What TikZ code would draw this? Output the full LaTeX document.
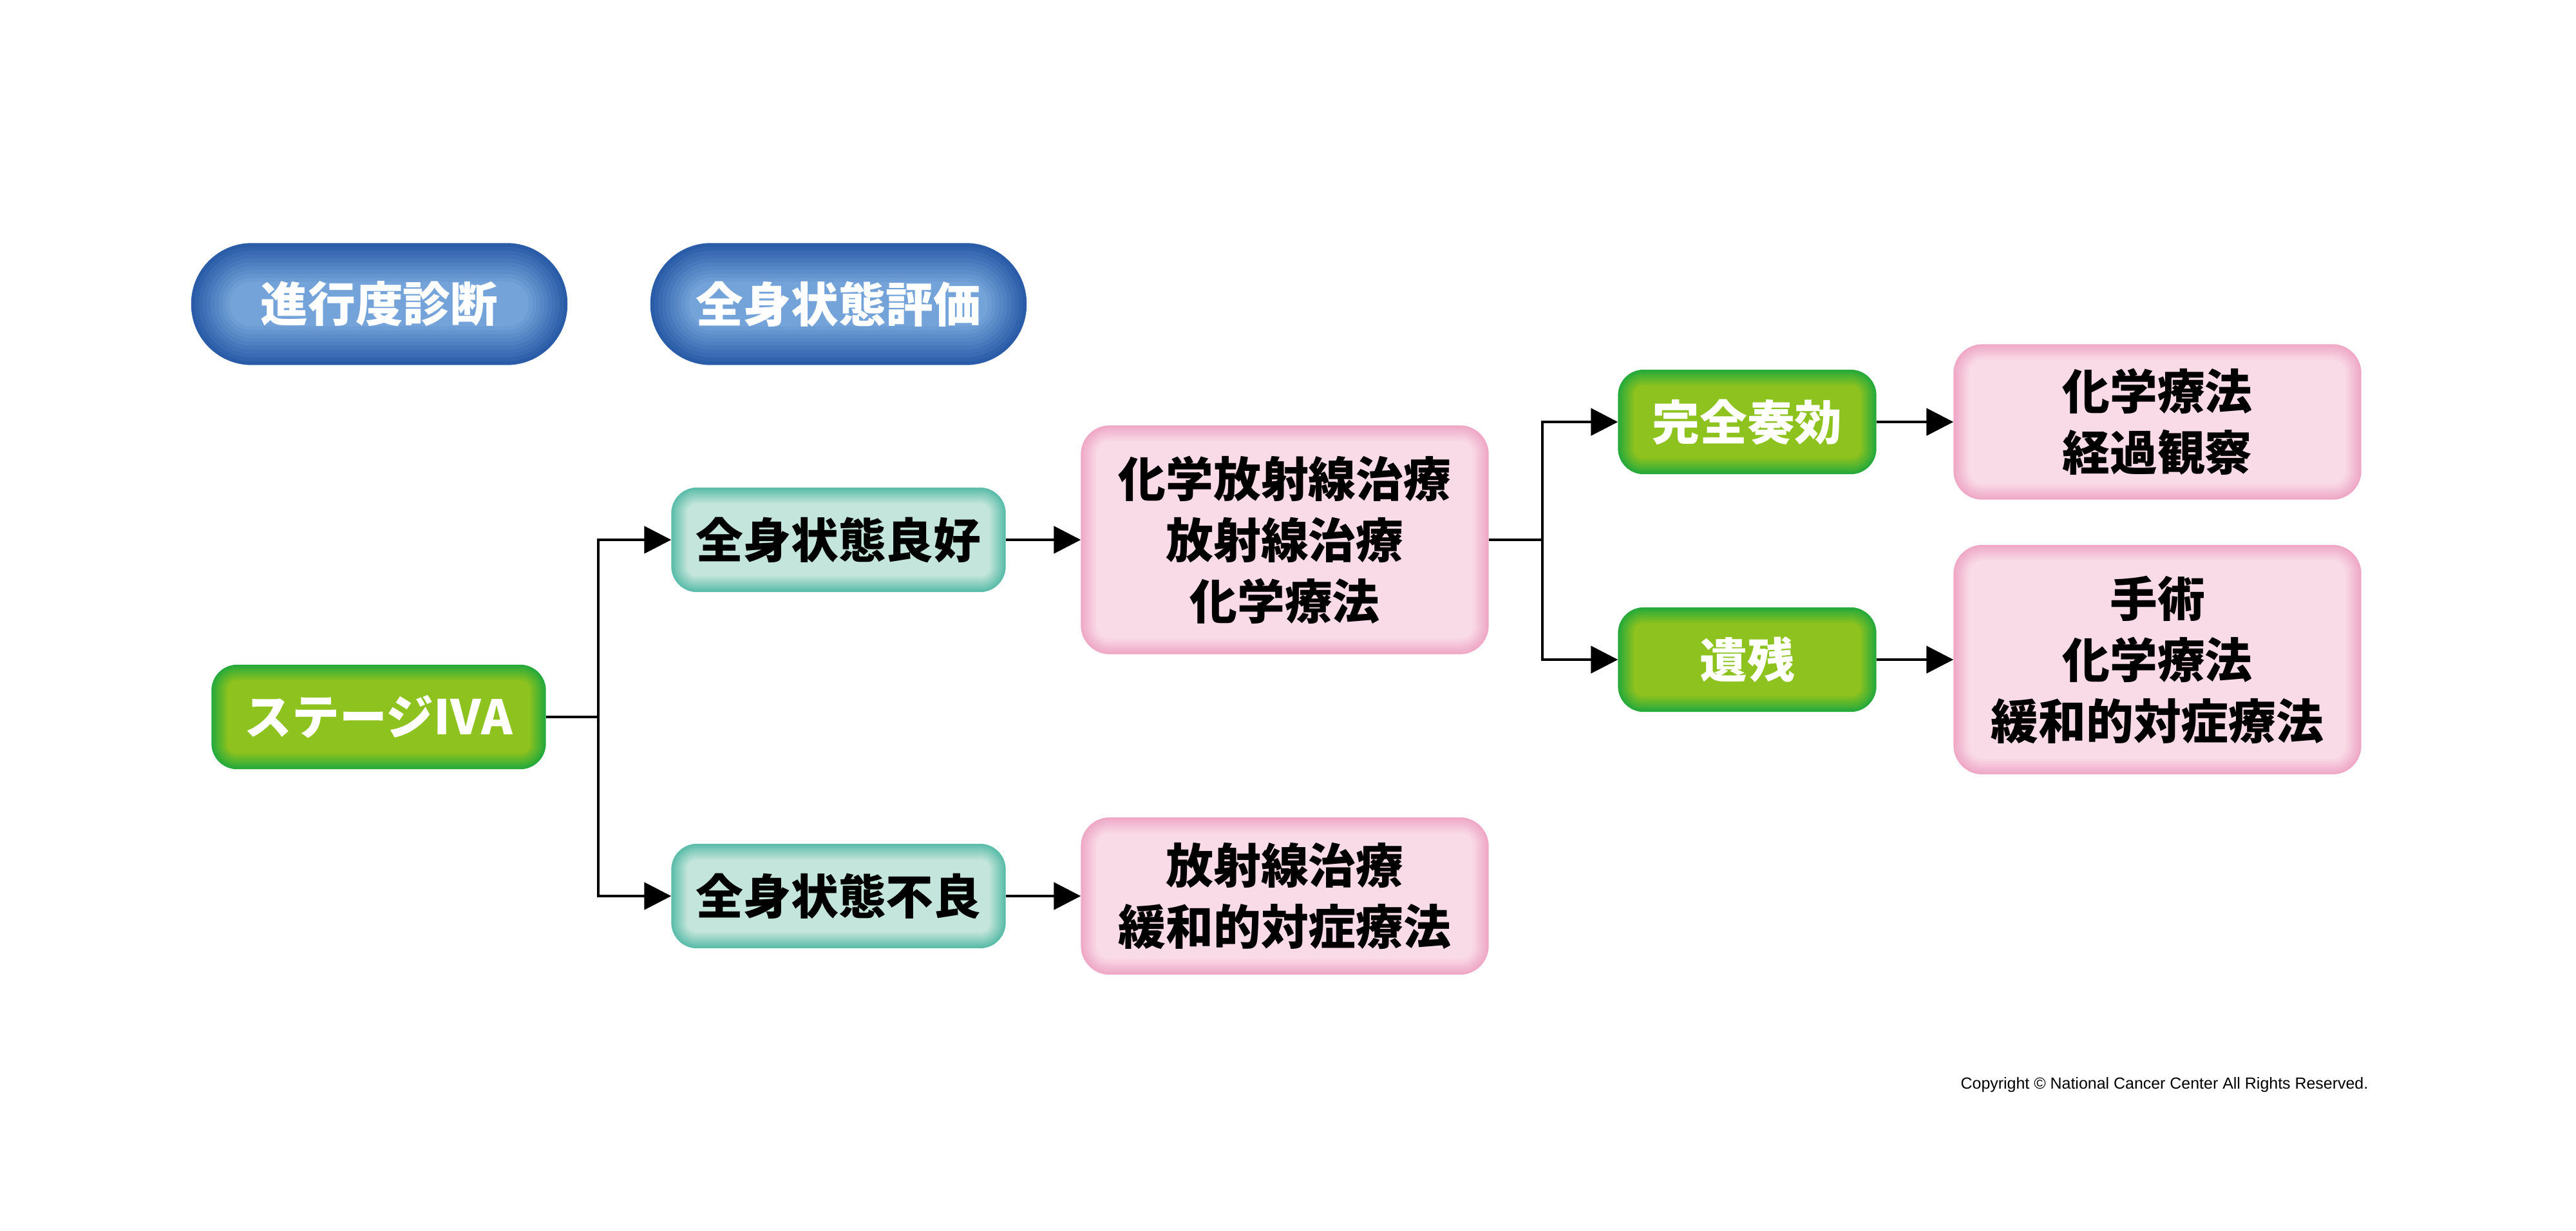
\documentclass[tikz,border=0pt]{standalone}
\usepackage{fontspec}
\newfontfamily\jpfont{Noto Sans CJK JP}
\setsansfont{Liberation Sans}
\usetikzlibrary{arrows.meta,calc,backgrounds}

\definecolor{bluedge}{HTML}{2A5CA8}
\definecolor{bluemid}{HTML}{74A3D9}
\definecolor{greenedge}{HTML}{27AA3A}
\definecolor{greenmid}{HTML}{8DC21F}
\definecolor{tealedge}{HTML}{5CBDAA}
\definecolor{tealmid}{HTML}{C4E5DB}
\definecolor{pinkedge}{HTML}{EFA9C7}
\definecolor{pinkmid}{HTML}{F9DBE7}

% soft inner glow: node, edge colour, centre colour, radius, step, steps
\newcommand{\glowfill}[6]{%
  \begin{scope}[on background layer]
    \foreach \k in {0,...,#6}{
      \pgfmathtruncatemacro{\pc}{100*\k/#6}
      \pgfmathsetmacro{\rr}{max(#4-\k*#5,0.02)}
      \fill[#3!\pc!#2, rounded corners=\rr cm]
        ($(#1.south west)+(\k*#5,\k*#5)$) rectangle ($(#1.north east)-(\k*#5,\k*#5)$);
    }
  \end{scope}}

\tikzset{
  box/.style={inner sep=0pt, align=center, font=\jpfont\bfseries\fontsize{21}{27}\selectfont},
  pill/.style={box, text=white, minimum width=5.83cm, minimum height=1.88cm},
  stagebox/.style={box, text=white, minimum height=1.61cm},
  statebox/.style={box, minimum width=5.18cm, minimum height=1.61cm},
  txbox/.style={box, minimum width=6.32cm},
  line/.style={line width=1.4pt},
  arr/.style={line, -{Triangle[length=0.42cm, width=0.42cm]}}
}

\begin{document}
\begin{tikzpicture}
\useasboundingbox (0,0) rectangle (40,-19.1);

\node[pill] (diag) at (5.89,-4.72) {進行度診断};
\node[pill] (eval) at (13.02,-4.72) {全身状態評価};

\node[stagebox, minimum width=5.18cm] (stage) at (5.88,-11.13) {ステージⅣA};
\node[statebox] (good) at (13.02,-8.38) {全身状態良好};
\node[statebox] (poor) at (13.02,-13.91) {全身状態不良};
\node[txbox, minimum height=3.54cm] (tx1) at (19.95,-8.38) {化学放射線治療\\放射線治療\\化学療法};
\node[txbox, minimum height=2.43cm] (tx2) at (19.95,-13.91) {放射線治療\\緩和的対症療法};
\node[stagebox, minimum width=4.00cm] (cr) at (27.13,-6.55) {完全奏効};
\node[stagebox, minimum width=4.00cm] (res) at (27.13,-10.24) {遺残};
\node[txbox, minimum height=2.40cm] (tx3) at (33.50,-6.55) {化学療法\\経過観察};
\node[txbox, minimum height=3.55cm] (tx4) at (33.50,-10.24) {手術\\化学療法\\緩和的対症療法};

\node[font=\sffamily\fontsize{7.1}{8.5}\selectfont] (copy) at (33.61,-16.84)
  {Copyright © National Cancer Center All Rights Reserved.};

\foreach \n in {diag,eval} {\glowfill{\n}{bluedge}{bluemid}{0.94}{0.06}{10}}
\foreach \n in {stage,cr,res} {\glowfill{\n}{greenedge}{greenmid}{0.4}{0.03}{8}}
\foreach \n in {good,poor} {\glowfill{\n}{tealedge}{tealmid}{0.4}{0.03}{8}}
\foreach \n in {tx1,tx2,tx3,tx4} {\glowfill{\n}{pinkedge}{pinkmid}{0.45}{0.03}{8}}

\coordinate (j1) at (9.29,-11.13);
\coordinate (j2) at (23.95,-8.38);

\draw[line] (stage.east) -- (j1);
\draw[arr] (j1) |- (good.west);
\draw[arr] (j1) |- (poor.west);
\draw[arr] (good) -- (tx1);
\draw[arr] (poor) -- (tx2);
\draw[line] (tx1.east) -- (j2);
\draw[arr] (j2) |- (cr.west);
\draw[arr] (j2) |- (res.west);
\draw[arr] (cr) -- (tx3);
\draw[arr] (res) -- (tx4);
\end{tikzpicture}
\end{document}
